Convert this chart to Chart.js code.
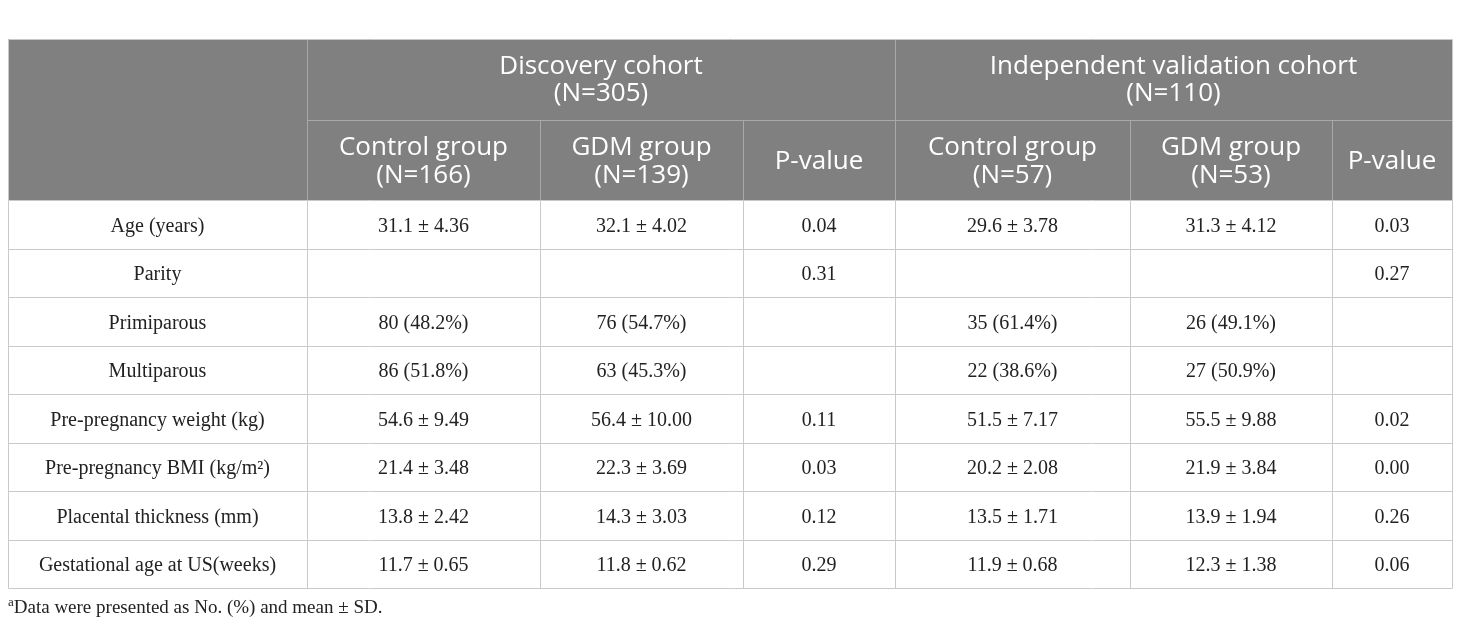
<!DOCTYPE html>
<html>
<head>
<meta charset="utf-8">
<title>Baseline characteristics</title>
<script src="https://cdn.jsdelivr.net/npm/chart.js@4.4.1/dist/chart.umd.min.js"></script>
<style>
   html, body { margin: 0; padding: 0; background: #fff; }
   #wrap { width: 1460px; height: 625px; position: relative; }
</style>
</head>
<body>
<div id="wrap"><canvas id="tableChart"></canvas></div>
<script>
// Table content
// ----------------------------------------------
const cohorts      = ['Discovery cohort', 'Independent validation cohort'];
const cohortSizes  = ['(N=305)', '(N=110)'];
const groupNames   = ['Control group', 'GDM group', 'P-value', 'Control group', 'GDM group', 'P-value'];
const groupSizes   = ['(N=166)', '(N=139)', '', '(N=57)', '(N=53)', ''];

const rowLabels    = ['Age (years)', 'Parity', 'Primiparous', 'Multiparous', 'Pre-pregnancy weight (kg)',
                      'Pre-pregnancy BMI (kg/m²)', 'Placental thickness (mm)', 'Gestational age at US(weeks)'];
const discControl  = ['31.1 ± 4.36', '', '80 (48.2%)', '86 (51.8%)', '54.6 ± 9.49', '21.4 ± 3.48', '13.8 ± 2.42', '11.7 ± 0.65'];
const discGdm      = ['32.1 ± 4.02', '', '76 (54.7%)', '63 (45.3%)', '56.4 ± 10.00', '22.3 ± 3.69', '14.3 ± 3.03', '11.8 ± 0.62'];
const discP        = ['0.04', '0.31', '', '', '0.11', '0.03', '0.12', '0.29'];
const valControl   = ['29.6 ± 3.78', '', '35 (61.4%)', '22 (38.6%)', '51.5 ± 7.17', '20.2 ± 2.08', '13.5 ± 1.71', '11.9 ± 0.68'];
const valGdm       = ['31.3 ± 4.12', '', '26 (49.1%)', '27 (50.9%)', '55.5 ± 9.88', '21.9 ± 3.84', '13.9 ± 1.94', '12.3 ± 1.38'];
const valP         = ['0.03', '0.27', '', '', '0.02', '0.00', '0.26', '0.06'];

const footnoteMark = 'a';
const footnoteText = 'Data were presented as No. (%) and mean ± SD.';


// Layout & styles
// ----------------------------------------------
const colWidths    = [299, 233, 203, 152, 235, 202, 120];
const headerHeights = [81, 80];
const bodyRowHeight = 48.5;
const cohortSpans  = [[1, 4], [4, 7]];

const headerFill   = '#808080';
const headerLine   = '#a9a9a9';
const bodyLine     = '#c9c9c9';
const headerFont   = '400 26px "Open Sans", Lato, sans-serif';
const bodyFont     = '20px "Liberation Serif", "Times New Roman", serif';
const textColor    = '#222222';

const bodyColumns  = [rowLabels, discControl, discGdm, discP, valControl, valGdm, valP];

// cumulative edges in table units
const colEdges = colWidths.reduce((a, w) => { a.push(a[a.length - 1] + w); return a; }, [0]);
const rowHeights = headerHeights.concat(rowLabels.map(() => bodyRowHeight));
const rowEdges = rowHeights.reduce((a, h) => { a.push(a[a.length - 1] + h); return a; }, [0]);


// Plugin that paints the table on the chart's scales
// ----------------------------------------------
const tablePlugin = {
   id: 'tablePlugin',
   afterDraw(chart) {
      const { ctx, scales: { x, y } } = chart;
      const px = v => x.getPixelForValue(v);
      const py = v => y.getPixelForValue(v);
      const left = px(colEdges[0]), right = px(colEdges[colEdges.length - 1]);
      const top = py(rowEdges[0]), headBottom = py(rowEdges[2]), bottom = py(rowEdges[rowEdges.length - 1]);

      ctx.save();

      // header background
      ctx.fillStyle = headerFill;
      ctx.fillRect(left, top, right - left, headBottom - top);

      const line = (x1, y1, x2, y2, color) => {
         ctx.strokeStyle = color;
         ctx.lineWidth = 1;
         ctx.beginPath();
         ctx.moveTo(Math.round(x1) + 0.5, Math.round(y1) + 0.5);
         ctx.lineTo(Math.round(x2) + 0.5, Math.round(y2) + 0.5);
         ctx.stroke();
      };

      // header grid
      line(px(colEdges[1]), py(rowEdges[1]), right, py(rowEdges[1]), headerLine);
      [1, 4].forEach(c => line(px(colEdges[c]), top, px(colEdges[c]), headBottom, headerLine));
      [2, 3, 5, 6].forEach(c => line(px(colEdges[c]), py(rowEdges[1]), px(colEdges[c]), headBottom, headerLine));

      // body grid
      for (let r = 2; r < rowEdges.length; r++) {
         line(left, py(rowEdges[r]), right, py(rowEdges[r]), bodyLine);
      }
      colEdges.forEach(e => line(px(e), headBottom, px(e), bottom, bodyLine));
      // outer frame
      line(left, top, right, top, bodyLine);
      line(left, top, left, headBottom, bodyLine);
      line(right, top, right, headBottom, bodyLine);

      // header text
      ctx.fillStyle = '#ffffff';
      ctx.font = headerFont;
      ctx.textAlign = 'center';
      ctx.textBaseline = 'middle';
      cohortSpans.forEach(([a, b], i) => {
         const cx = (px(colEdges[a]) + px(colEdges[b])) / 2;
         const cy = (py(rowEdges[0]) + py(rowEdges[1])) / 2;
         ctx.fillText(cohorts[i], cx, cy - 13);
         ctx.fillText(cohortSizes[i], cx, cy + 14);
      });
      groupNames.forEach((g, i) => {
         const cx = (px(colEdges[i + 1]) + px(colEdges[i + 2])) / 2;
         const cy = (py(rowEdges[1]) + py(rowEdges[2])) / 2;
         if (groupSizes[i]) {
            ctx.fillText(g, cx, cy - 12);
            ctx.fillText(groupSizes[i], cx, cy + 16);
         } else {
            ctx.fillText(g, cx, cy + 2);
         }
      });

      // body text
      ctx.fillStyle = textColor;
      ctx.font = bodyFont;
      bodyColumns.forEach((col, c) => {
         const cx = (px(colEdges[c]) + px(colEdges[c + 1])) / 2;
         col.forEach((txt, r) => {
            if (!txt) return;
            const cy = (py(rowEdges[r + 2]) + py(rowEdges[r + 3])) / 2;
            ctx.fillText(txt, cx, cy + 2);
         });
      });

      // footnote
      ctx.textAlign = 'left';
      ctx.textBaseline = 'alphabetic';
      ctx.font = '13px "Liberation Serif", serif';
      ctx.fillText(footnoteMark, left, bottom + 18);
      const mw = ctx.measureText(footnoteMark).width;
      ctx.font = '19px "Liberation Serif", serif';
      ctx.fillText(footnoteText, left + mw, bottom + 25);

      ctx.restore();
   }
};


document.addEventListener('DOMContentLoaded', () => {

   new Chart(document.getElementById('tableChart'), {
      type: 'scatter',
      data: { datasets: [] },
      options: {
         responsive: true,
         maintainAspectRatio: false,
         animation: false,
         layout: {
            padding: { left: 8, right: 8, top: 39, bottom: 37 }
         },
         plugins: {
            legend: { display: false },
            tooltip: { enabled: false }
         },
         scales: {
            x: { type: 'linear', display: false, min: 0, max: colEdges[colEdges.length - 1] },
            y: { type: 'linear', display: false, reverse: true, min: 0, max: rowEdges[rowEdges.length - 1] }
         }
      },
      plugins: [tablePlugin]
   });

});
</script>
</body>
</html>
